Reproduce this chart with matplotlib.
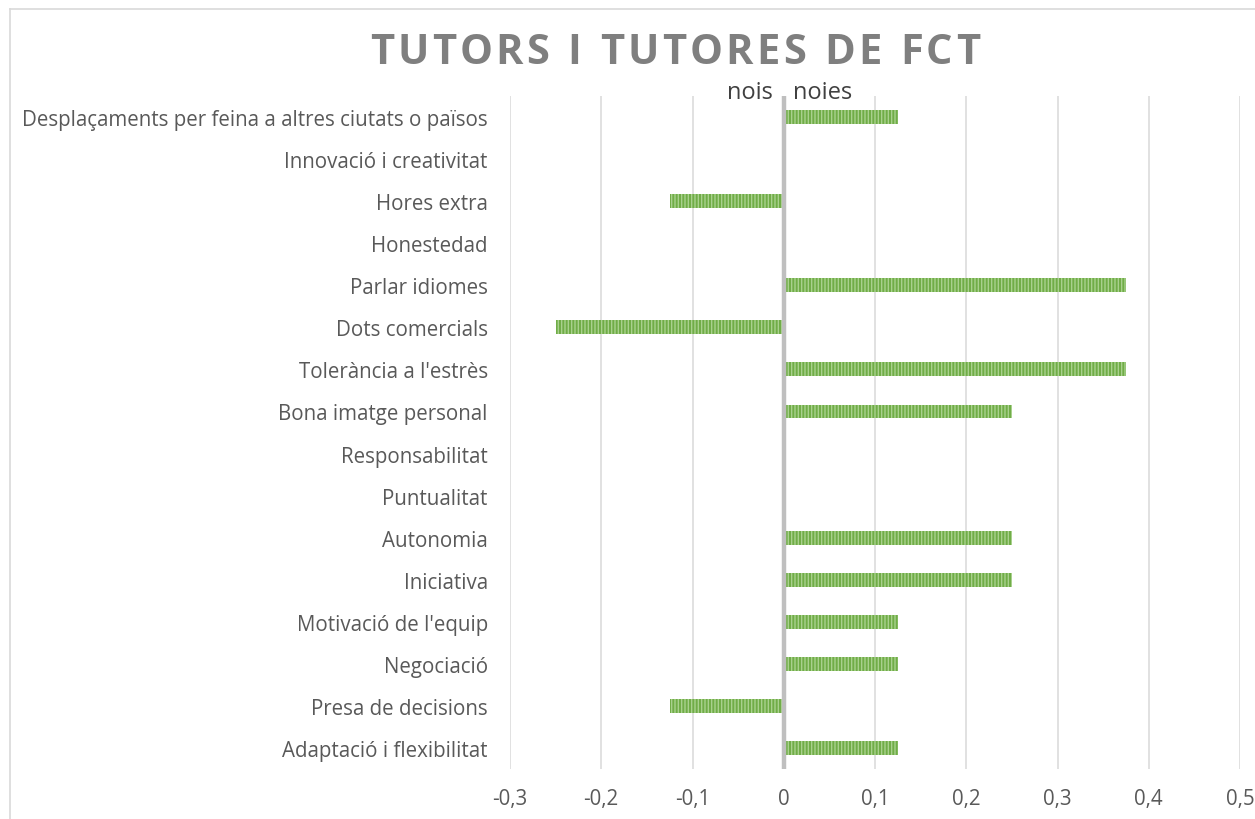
import matplotlib.pyplot as plt
from matplotlib.lines import Line2D

categories = ["Desplaçaments per feina a altres ciutats o països",
              "Innovació i creativitat",
              "Hores extra",
              "Honestedad",
              "Parlar idiomes",
              "Dots comercials",
              "Tolerància a l'estrès",
              "Bona imatge personal",
              "Responsabilitat",
              "Puntualitat",
              "Autonomia",
              "Iniciativa",
              "Motivació de l'equip",
              "Negociació",
              "Presa de decisions",
              "Adaptació i flexibilitat"]
values = [0.125, 0, -0.125, 0, 0.375, -0.25, 0.375, 0.25,
          0, 0, 0.25, 0.25, 0.125, 0.125, -0.125, 0.125]
xticks = [-0.3, -0.2, -0.1, 0, 0.1, 0.2, 0.3, 0.4, 0.5]
xtick_labels = ["-0,3", "-0,2", "-0,1", "0", "0,1", "0,2", "0,3", "0,4", "0,5"]
title = "TUTORS I TUTORES DE FCT"

plt.rcParams['font.family'] = ['Open Sans', 'DejaVu Sans']
plt.rcParams['hatch.linewidth'] = 1.0
plt.rcParams['hatch.color'] = '#a9d18e'

W, H = 1255, 820
fig = plt.figure(figsize=(W / 100, H / 100), dpi=100)
ax = fig.add_axes([510 / W, 1 - 770 / H, 730 / W, (770 - 97) / H])

# chart border (left and top visible)
fig.add_artist(Line2D([10 / W, 10 / W], [0, 1 - 10 / H], transform=fig.transFigure,
                      color='#d9d9d9', lw=1.2))
fig.add_artist(Line2D([10 / W, 1], [1 - 10 / H, 1 - 10 / H], transform=fig.transFigure,
                      color='#d9d9d9', lw=1.2))

y = list(range(len(categories)))
ax.barh(y, values, height=0.33, color='#70ad47', edgecolor='#a9d18e',
        hatch='|||||', linewidth=0, zorder=2)

ax.set_xlim(-0.3, 0.5)
ax.set_ylim(len(categories) - 0.5, -0.5)
ax.set_xticks(xticks)
ax.set_xticklabels(xtick_labels)
ax.set_yticks(y)
ax.set_yticklabels(categories)
ax.tick_params(axis='both', length=0, labelsize=14.8, labelcolor='#595959')
ax.tick_params(axis='x', pad=14)
ax.tick_params(axis='y', pad=16)
ax.grid(axis='x', color='#d9d9d9', lw=1.1, zorder=0)
ax.axvline(0, color='#bfbfbf', lw=3.2, zorder=3)
for s in ax.spines.values():
    s.set_visible(False)

ax.text(-0.012, -0.45, 'nois', ha='right', va='baseline', fontsize=17, color='#404040')
ax.text(0.01, -0.45, 'noies', ha='left', va='baseline', fontsize=17, color='#404040')

# title with letter spacing, placed character by character
renderer = fig.canvas.get_renderer()
chars = []
widths = []
for c in title:
    t = fig.text(0, 0, c if c != ' ' else 'I', fontsize=30, fontweight='bold',
                 color='#7f7f7f', va='center', ha='left')
    w = t.get_window_extent(renderer).width
    if c == ' ':
        t.remove()
        w = w * 0.9
        t = None
    chars.append(t)
    widths.append(w)
left_px, right_px = 370, 980
gap = (right_px - left_px - sum(widths)) / (len(title) - 1)
x = left_px
for t, w in zip(chars, widths):
    if t is not None:
        t.set_position((x / W, 1 - 53 / H))
    x += w + gap

fig.savefig('out.png', dpi=100)
